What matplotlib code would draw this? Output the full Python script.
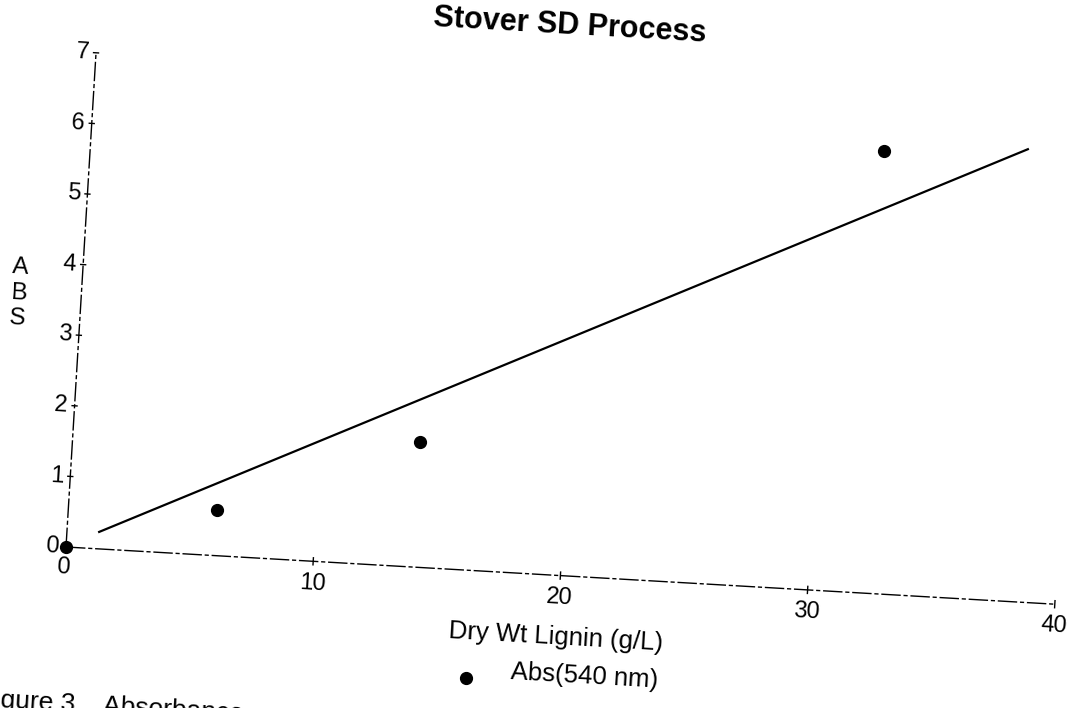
import matplotlib
matplotlib.use("Agg")
import matplotlib.pyplot as plt
from matplotlib.transforms import Affine2D

# data
lignin = [0, 6, 14, 32]
absorbance = [0, 0.65, 1.77, 6.26]
fit_x = [1.3, 37.8]
fit_y = [0.24, 6.4]
x_ticks = [0, 10, 20, 30, 40]
y_ticks = [0, 1, 2, 3, 4, 5, 6, 7]
title = "Stover SD Process"
x_label = "Dry Wt Lignin (g/L)"
y_label = "A\nB\nS"
legend_label = "Abs(540 nm)"
caption = "Figure 3.   Absorbance"

plt.rcParams['font.family'] = ['Liberation Sans', 'DejaVu Sans']


def main():
	fig = plt.figure(figsize=(10.72, 7.08), dpi=100)
	ax = fig.add_axes([0, 0, 1, 1])
	ax.set_xlim(0, 1072)
	ax.set_ylim(708, 0)
	ax.axis('off')

	# the page was scanned a little crooked, so the plot area is a skewed frame
	skew = Affine2D.from_values(24.72, 1.43, 4.29, -70.6, 66, 547) + ax.transData
	tilt = -3.3

	axis_style = dict(color='black', linewidth=1.0, linestyle=(0, (14, 2, 3, 2)))
	ax.plot([x_ticks[0], x_ticks[-1]], [0, 0], transform=skew, **axis_style)
	ax.plot([0, 0], [y_ticks[0], y_ticks[-1]], transform=skew, **axis_style)

	# offsets below are in display pixels (y up)
	for t in x_ticks[1:]:
		ax.plot([t, t], [-0.05, 0.05], transform=skew, color='black', linewidth=1.0)
		ax.text(t, 0, str(t), transform=skew + Affine2D().translate(-1, -22),
			ha='center', va='center', fontsize=17, rotation=tilt, rotation_mode='anchor')
	ax.text(0, 0, "0", transform=skew + Affine2D().translate(-3, -20),
		ha='center', va='center', fontsize=17, rotation=tilt, rotation_mode='anchor')

	for t in y_ticks:
		ax.plot([-0.1, 0.1], [t, t], transform=skew, color='black', linewidth=1.0)
		ax.text(0, t, str(t), transform=skew + Affine2D().translate(-7, 0),
			ha='right', va='center', fontsize=17, rotation=tilt, rotation_mode='anchor')

	ax.plot(fit_x, fit_y, transform=skew, color='black', linewidth=1.6)
	ax.plot(lignin, absorbance, transform=skew, linestyle='none', marker='o',
		markersize=8.5, color='black', label=legend_label, clip_on=False)

	ax.text(570, 26, title, fontsize=22, fontweight='bold', ha='center', va='center',
		rotation=tilt, rotation_mode='anchor')
	ax.text(556, 637, x_label, fontsize=18.5, ha='center', va='center',
		rotation=tilt, rotation_mode='anchor')
	ax.text(19, 293, y_label, fontsize=17.5, ha='center', va='center',
		linespacing=1.2, rotation=tilt, rotation_mode='anchor')
	ax.text(-22, 706, caption, fontsize=19, ha='left', va='baseline',
		rotation=tilt, rotation_mode='anchor')

	leg = ax.legend(loc='center left', bbox_to_anchor=(430 / 1072, 1 - 676 / 708),
		frameon=False, fontsize=18.5, handletextpad=1.2, handlelength=1.0)
	for text in leg.get_texts():
		text.set_rotation(tilt)

	fig.savefig("out.png", dpi=100)


if __name__ == "__main__":
	main()
